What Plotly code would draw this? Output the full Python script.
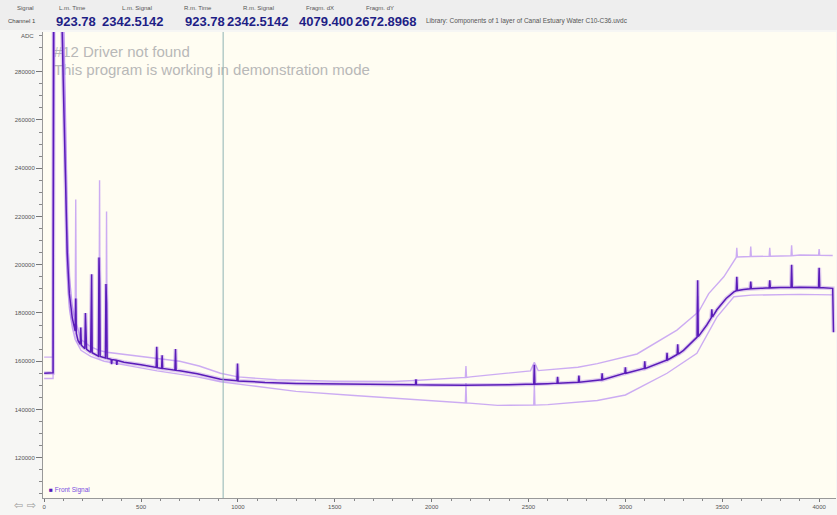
import plotly.graph_objects as go

# ---------------- data ----------------
main_t = [0, 46, 49, 92, 100, 110, 119, 130, 145, 160, 163, 166, 175, 186, 189, 192, 210, 213, 216, 219,
          240, 243, 245, 248, 280, 283, 286, 289, 316, 319, 322, 325, 345, 348, 351, 372, 375, 378,
          412, 500, 578, 581, 584, 606, 609, 612, 675, 678, 681, 700, 790, 910, 995, 998, 1001, 1060,
          1140, 1300, 1480, 1700, 1916, 1919, 1922, 2000, 2170, 2400, 2527, 2530, 2533, 2600, 2647, 2650, 2653,
          2757, 2760, 2763, 2855, 2877, 2880, 2883, 2997, 3000, 3003, 3097, 3100, 3103, 3212, 3215, 3218,
          3267, 3270, 3273, 3300, 3370, 3373, 3376, 3420, 3443, 3446, 3449, 3472, 3520, 3560, 3572, 3575, 3578,
          3610, 3644, 3647, 3650, 3700, 3742, 3745, 3748, 3800, 3855, 3858, 3861, 3900, 3997, 4000, 4003,
          4070, 4074]
main_v = [155000, 155200, 300000, 300000, 270000, 235000, 205000, 188000, 178000, 172500, 186000, 171500, 168500, 167000, 174000, 166600, 165200, 180000, 165000, 164900,
          163700, 190000, 196000, 163500, 162100, 203000, 192000, 162000, 161300, 192000, 184000, 161200, 160800, 158800, 160700, 160400, 158500, 160300,
          159600, 158500, 157400, 166000, 157300, 157000, 162500, 157000, 156300, 165000, 156200, 156000, 154800, 152500, 151900, 159000, 151800, 151600,
          151200, 150800, 150600, 150300, 150200, 152500, 150200, 150100, 150000, 150200, 150500, 158500, 150500, 150700, 150900, 153500, 150900,
          151300, 154000, 151300, 152000, 152300, 155000, 152300, 155000, 157500, 155000, 157000, 160000, 157000, 160400, 163500, 160500,
          162800, 167000, 162900, 164500, 170000, 193500, 170200, 175000, 178000, 181500, 178300, 181300, 186000, 188700, 189200, 195000, 189300,
          189700, 190000, 193000, 190000, 190200, 190400, 193500, 190400, 190500, 190600, 200000, 190600, 190700, 190500, 198700, 190500,
          190200, 172000]

upper_t = [0, 44, 46, 100, 110, 119, 130, 145, 160, 163, 166, 190, 240, 283, 286, 289, 319, 322, 325, 412, 583,
           700, 800, 910, 1000, 1200, 1500, 1800, 1913, 2174, 2177, 2180, 2200, 2510, 2530, 2550, 2755, 2855, 3060,
           3266, 3370, 3373, 3376, 3430, 3508, 3572, 3575, 3578, 3644, 3647, 3650, 3742, 3745, 3748, 3855, 3858, 3861,
           3900, 3997, 4000, 4003, 4070]
upper_v = [161700, 161700, 310000, 310000, 262000, 216000, 195000, 183000, 176000, 227000, 175500, 169000, 166000, 164500, 235000, 164400, 163800, 222000, 163700, 162800, 161000,
           160000, 158000, 155000, 153500, 152300, 151700, 151600, 152000, 153300, 158000, 153300, 153500, 156000, 159500, 156100, 157500, 159000, 163000,
           172900, 180000, 187000, 180200, 188000, 195000, 203000, 207000, 203200, 203400, 207500, 203400, 203500, 207000, 203500, 203700, 208000, 203700,
           204000, 203900, 206500, 203900, 203800]

lower_t = [0, 46, 52, 95, 105, 117, 130, 145, 160, 190, 240, 310, 412, 583, 790, 910, 1054, 1300, 1600, 1826,
           2100, 2174, 2177, 2180, 2340, 2527, 2530, 2533, 2600, 2855, 3000, 3215, 3369, 3472, 3560, 3650, 3900, 4070]
lower_v = [152800, 152800, 305000, 305000, 270000, 200000, 182000, 174000, 169000, 164500, 162000, 160000, 158500, 156000, 153500, 151500, 150000, 147500, 145800, 144600,
           143000, 142700, 151000, 142700, 141700, 141800, 150500, 141800, 142000, 143700, 146000, 155000, 163300, 178300, 186700, 187400, 187700, 187500]

cursor_time = 923.78
x_ticks = [0, 500, 1000, 1500, 2000, 2500, 3000, 3500, 4000]
y_ticks = [120000, 140000, 160000, 180000, 200000, 220000, 240000, 260000, 280000]

header_labels = ["Signal", "L.m. Time", "L.m. Signal", "R.m. Time", "R.m. Signal", "Fragm. dX", "Fragm. dY"]
header_values = ["Channel 1", "923.78", "2342.5142", "923.78", "2342.5142", "4079.400", "2672.8968"]
library_text = "Library: Components of 1 layer of Canal Estuary Water C10-C36.uvdc"

# ---------------- figure ----------------
W, H = 837, 515
L, R, T, B = 43, 1, 32, 17
PW, PH = W - L - R, H - T - B

def px(xp):
    return (xp - L) / PW

def py(yp):
    return (H - B - yp) / PH

fig = go.Figure()

# watermark (drawn under the traces)
fig.add_trace(go.Scatter(
    x=[50, 50], y=[287600, 280200], mode="text",
    text=["#12 Driver not found", "This program is working in demonstration mode"],
    textposition="middle right",
    textfont=dict(family="Arial, Liberation Sans", size=15, color="#b8b8b8"),
    hoverinfo="skip", showlegend=False))

fig.add_trace(go.Scatter(x=upper_t, y=upper_v, mode="lines",
                         line=dict(color="rgba(195,158,242,0.85)", width=1.4), showlegend=False))
fig.add_trace(go.Scatter(x=lower_t, y=lower_v, mode="lines",
                         line=dict(color="rgba(195,158,242,0.85)", width=1.4), showlegend=False))
fig.add_trace(go.Scatter(x=main_t, y=main_v, mode="lines",
                         line=dict(color="rgba(150,90,230,0.3)", width=4), showlegend=False))
fig.add_trace(go.Scatter(x=main_t, y=main_v, mode="lines",
                         line=dict(color="#5a1cb8", width=1.5), showlegend=False))

fig.add_shape(type="line", x0=cursor_time, x1=cursor_time, xref="x", yref="paper", y0=0, y1=1,
              line=dict(color="#8fb3b3", width=1))

annotations = []
label_x = [25, 72, 137, 198, 258, 320, 380]
for lab, xp in zip(header_labels, label_x):
    annotations.append(dict(x=px(xp), y=py(8), xref="paper", yref="paper", text=lab, showarrow=False,
                            font=dict(family="Arial, Liberation Sans", size=6, color="#555"),
                            xanchor="center", yanchor="middle"))
annotations.append(dict(x=px(22), y=py(21), xref="paper", yref="paper", text=header_values[0], showarrow=False,
                        font=dict(family="Arial, Liberation Sans", size=6, color="#444"),
                        xanchor="center", yanchor="middle"))
val_right = [98, 165, 227, 290, 355, 418]
for val, xp in zip(header_values[1:], val_right):
    annotations.append(dict(x=px(xp), y=py(21), xref="paper", yref="paper", text="<b>%s</b>" % val,
                            showarrow=False,
                            font=dict(family="Arial, Liberation Sans", size=13, color="#1e1e86"),
                            xanchor="right", yanchor="middle"))
annotations.append(dict(x=px(424), y=py(21), xref="paper", yref="paper", text=library_text, showarrow=False,
                        font=dict(family="Arial, Liberation Sans", size=6.5, color="#555"),
                        xanchor="left", yanchor="middle"))
annotations.append(dict(x=px(27), y=py(36), xref="paper", yref="paper", text="ADC", showarrow=False,
                        font=dict(family="Arial, Liberation Sans", size=6, color="#555"),
                        xanchor="center", yanchor="middle"))
annotations.append(dict(x=px(47), y=py(490), xref="paper", yref="paper",
                        text="<span style='color:#5a1cb8'>■</span> Front Signal", showarrow=False,
                        font=dict(family="Arial, Liberation Sans", size=6.5, color="#7a4fe0"),
                        xanchor="left", yanchor="middle"))
annotations.append(dict(x=px(25), y=py(505), xref="paper", yref="paper", text="⇦ ⇨", showarrow=False,
                        font=dict(family="DejaVu Sans", size=11, color="#999"),
                        xanchor="center", yanchor="middle"))

fig.update_layout(
    width=W, height=H,
    margin=dict(l=L, r=R, t=T, b=B, pad=0, autoexpand=False),
    paper_bgcolor="#f6f6f4",
    plot_bgcolor="#fffdf2",
    showlegend=False,
    annotations=annotations,
    xaxis=dict(range=[-6, 4087], tickvals=x_ticks, ticktext=[str(v) for v in x_ticks],
               ticks="outside", ticklen=3, tickcolor="#777", showgrid=False, zeroline=False,
               showline=True, linecolor="#999", linewidth=1, automargin=False,
               tickfont=dict(family="Arial, Liberation Sans", size=6, color="#555"),
               minor=dict(dtick=100, tick0=0, ticks="outside", ticklen=2, tickcolor="#888")),
    yaxis=dict(range=[103300, 296450], tickvals=y_ticks, ticktext=[str(v) for v in y_ticks],
               ticks="outside", ticklen=6, tickcolor="#777", showgrid=False, zeroline=False,
               showline=True, linecolor="#999", linewidth=1, automargin=False,
               tickfont=dict(family="Arial, Liberation Sans", size=6, color="#555"),
               minor=dict(dtick=5000, tick0=0, ticks="outside", ticklen=3, tickcolor="#888")),
)

fig.add_shape(type="rect", xref="paper", yref="paper", x0=px(0), x1=px(W), y0=py(30), y1=py(0),
              fillcolor="#eeeeee", line=dict(width=0), layer="below")

fig.write_html("out.html", config={"displayModeBar": False},
               post_script="document.body.style.margin='0';document.body.style.overflow='hidden';")
